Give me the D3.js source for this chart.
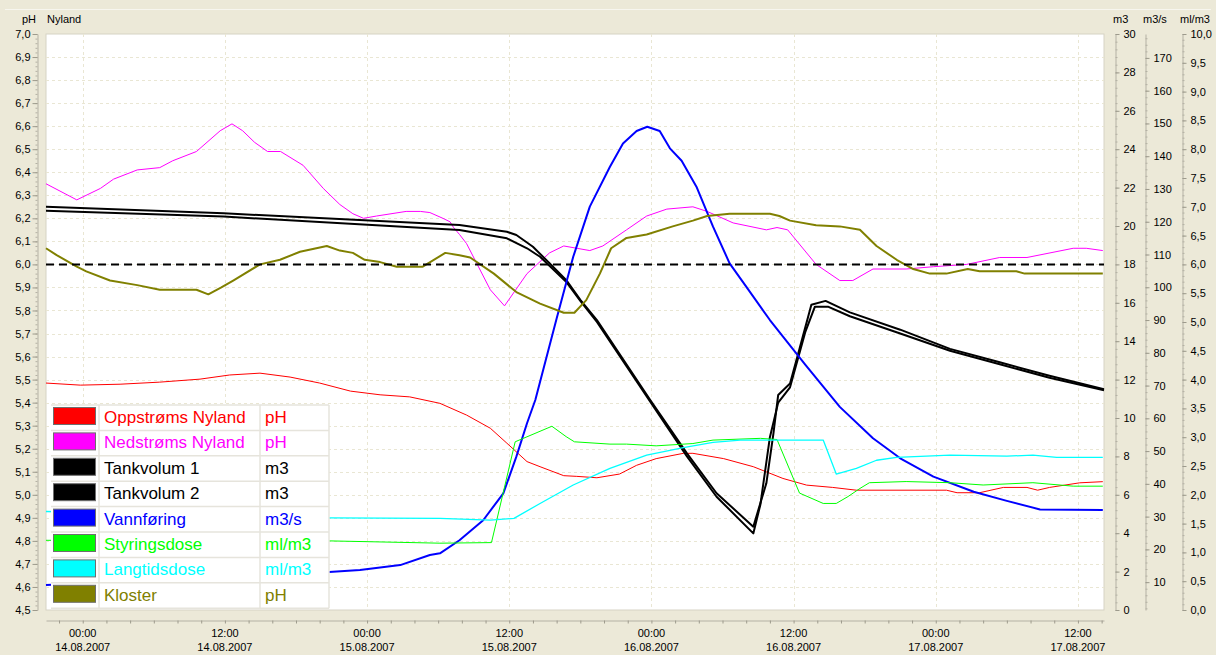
<!DOCTYPE html>
<html>
<head>
<meta charset="utf-8">
<script src="https://cdn.jsdelivr.net/npm/d3@7"></script>
<style>
body { margin: 0; background: #ECE9D8; }
svg { display: block; font-family: "Liberation Sans", Arial, sans-serif; }
</style>
</head>
<body>
<div id="chart"></div>
<script>
// time = hours after 14.08.2007 00:00
const timeRange = [-3.1, 86.2];

// pH
const oppstroms = [[-3.1,5.485],[-0.2,5.476],[3.15,5.48],[6.5,5.489],[9.9,5.502],[12.4,5.52],[14.96,5.528],[17.5,5.511],[20.0,5.485],[22.6,5.45],[25.1,5.434],[27.6,5.425],[30.15,5.397],[32.4,5.346],[34.4,5.289],[35.8,5.224],[37.5,5.144],[38.6,5.122],[40.6,5.083],[41.7,5.08],[43.4,5.074],[45.3,5.09],[46.75,5.128],[48.4,5.157],[50.7,5.18],[51.5,5.18],[54.1,5.157],[56.6,5.122],[59.1,5.071],[61.1,5.042],[63.3,5.032],[65.3,5.02],[72.9,5.02],[73.8,5.009],[75.7,5.009],[77.7,5.032],[79.7,5.032],[80.6,5.02],[81.6,5.032],[84.15,5.052],[86.1,5.057]];

// pH
const nedstroms = [[-3.1,6.35],[-0.5,6.28],[1.5,6.33],[2.6,6.37],[4.6,6.41],[6.5,6.42],[7.6,6.45],[9.6,6.49],[11.6,6.58],[12.6,6.61],[13.5,6.58],[14.5,6.53],[15.6,6.49],[16.7,6.49],[18.6,6.43],[20.3,6.33],[21.7,6.26],[22.8,6.22],[23.7,6.2],[24.8,6.21],[27.3,6.23],[28.5,6.23],[29.3,6.225],[30.4,6.2],[31.0,6.185],[31.3,6.16],[31.8,6.13],[32.4,6.09],[34.4,5.89],[35.6,5.82],[37.5,5.96],[39.4,6.05],[40.6,6.08],[41.7,6.07],[42.8,6.06],[43.9,6.08],[45.9,6.15],[47.6,6.21],[49.3,6.24],[51.5,6.25],[52.7,6.23],[54.9,6.18],[57.7,6.15],[58.6,6.16],[59.5,6.15],[61.9,6.0],[63.9,5.93],[65.0,5.93],[66.7,5.98],[69.5,5.98],[71.8,5.99],[74.6,6.0],[77.4,6.03],[79.7,6.03],[83.6,6.07],[84.7,6.07],[86.1,6.06]];

// m3
const tankvolum1 = [[-3.1,21.0],[11.9,20.66],[31.8,20.05],[35.8,19.7],[36.6,19.53],[38.0,18.92],[39.4,18.06],[40.8,17.19],[42.0,16.15],[43.4,15.1],[47.9,10.94],[51.0,8.16],[53.5,6.08],[56.6,4.34],[57.7,6.6],[58.3,9.2],[58.7,11.2],[59.7,11.8],[60.5,13.6],[61.5,15.9],[62.7,16.1],[64.75,15.5],[69.0,14.6],[73.2,13.6],[77.4,12.9],[81.6,12.2],[86.2,11.5]];

// m3
const tankvolum2 = [[-3.1,20.8],[11.9,20.49],[31.8,19.79],[35.8,19.36],[37.5,18.84],[38.6,18.4],[40.8,17.1],[42.0,16.1],[43.4,15.0],[47.9,10.85],[51.0,8.0],[53.5,5.9],[56.6,3.99],[57.2,5.5],[58.0,9.0],[58.7,10.8],[59.7,11.6],[61.0,14.5],[61.8,15.8],[62.9,15.8],[64.75,15.3],[69.0,14.4],[73.2,13.5],[77.4,12.8],[81.6,12.1],[86.2,11.45]];

// m3/s
const vannforing = [[-3.1,9.1],[8.0,10.8],[20.8,13.1],[23.4,13.7],[26.8,15.2],[29.3,18.3],[30.15,18.8],[31.8,22.8],[33.8,28.9],[35.5,37.1],[36.6,48.3],[37.5,58.5],[38.2,65.6],[40.0,90.5],[41.4,109.3],[42.8,124.6],[44.5,136.8],[45.6,143.9],[46.75,147.7],[47.65,149.0],[48.7,147.7],[49.56,142.4],[50.55,138.6],[51.8,130.7],[53.2,118.5],[54.6,107.3],[56.0,100.2],[58.0,90.0],[61.0,76.3],[63.9,63.5],[66.7,53.9],[69.0,47.8],[71.8,42.2],[75.2,37.6],[78.0,34.8],[80.8,32.2],[86.1,32.0]];

// ml/m3
const styringsdose = [[-3.1,1.21],[20.8,1.2],[30.15,1.16],[34.5,1.17],[36.5,2.92],[39.6,3.19],[40.8,3.01],[41.5,2.92],[44.5,2.88],[45.9,2.88],[48.4,2.85],[51.5,2.89],[53.2,2.95],[57.2,2.98],[58.6,2.96],[60.5,2.03],[62.5,1.85],[63.6,1.85],[64.6,1.97],[65.6,2.11],[66.4,2.21],[69.5,2.23],[73.2,2.21],[76.0,2.17],[80.2,2.21],[83.6,2.15],[86.1,2.15]];

// ml/m3
const langtidsdose = [[-3.1,1.71],[20.8,1.6],[30.15,1.59],[34.4,1.56],[36.4,1.59],[38.6,1.85],[41.4,2.17],[44.5,2.46],[47.6,2.69],[50.7,2.82],[53.2,2.91],[55.5,2.95],[62.5,2.95],[63.6,2.36],[65.3,2.46],[67.0,2.6],[68.7,2.65],[73.2,2.69],[78.0,2.67],[80.2,2.69],[82.2,2.65],[86.1,2.65]];

// pH
const kloster = [[-3.1,6.07],[-2.2,6.04],[-0.5,5.99],[0.3,5.97],[2.3,5.93],[4.6,5.91],[6.5,5.89],[9.6,5.89],[10.6,5.87],[11.7,5.9],[12.7,5.93],[14.96,6.0],[16.65,6.02],[18.34,6.055],[20.6,6.08],[21.7,6.06],[22.8,6.05],[23.8,6.02],[25.1,6.01],[26.5,5.99],[28.7,5.99],[30.6,6.05],[31.8,6.04],[32.7,6.03],[34.7,5.96],[36.6,5.88],[38.6,5.83],[40.6,5.79],[41.5,5.79],[42.5,5.845],[43.65,5.96],[44.6,6.07],[45.9,6.115],[47.6,6.13],[49.8,6.165],[51.5,6.19],[52.7,6.21],[54.6,6.22],[58.0,6.22],[58.8,6.21],[59.7,6.19],[61.9,6.17],[63.9,6.165],[65.6,6.15],[67.0,6.08],[68.7,6.02],[70.1,5.98],[71.5,5.96],[72.9,5.96],[74.7,5.98],[75.7,5.97],[78.8,5.97],[79.5,5.96],[86.1,5.96]];

const seriesNames = ["Oppstrøms Nyland", "Nedstrøms Nyland", "Tankvolum 1", "Tankvolum 2", "Vannføring", "Styringsdose", "Langtidsdose", "Kloster"];
const seriesUnits = ["pH", "pH", "m3", "m3", "m3/s", "ml/m3", "ml/m3", "pH"];
const seriesColors = ["#ff0000", "#ff00ff", "#000000", "#000000", "#0000ff", "#00ff00", "#00ffff", "#808000"];
const seriesData = [oppstroms, nedstroms, tankvolum1, tankvolum2, vannforing, styringsdose, langtidsdose, kloster];
const seriesWidth = [1, 1, 2, 2, 2, 1, 1.3, 2];

const phDomain = [4.5, 7.0];
const m3Domain = [0, 30];
const flowDomain = [1.5, 177.3];
const doseDomain = [0, 10];
const phLimit = 6.0;

const phTicks = d3.range(45, 71).map(d => d / 10);
const m3Ticks = d3.range(0, 31, 2);
const flowTicks = d3.range(10, 171, 10);
const doseTicks = d3.range(0, 21).map(d => d / 2);

const W = 1216, H = 655;
const plot = { left: 46, right: 1104, top: 34, bottom: 610 };

const base = new Date(2007, 7, 14, 0, 0);
const toDate = h => new Date(+base + h * 3600e3);

const svg = d3.select("#chart").append("svg")
  .attr("width", W).attr("height", H);

const x = d3.scaleTime().domain(timeRange.map(toDate)).range([plot.left, plot.right]);
const yPH = d3.scaleLinear().domain(phDomain).range([plot.bottom, plot.top]);
const yM3 = d3.scaleLinear().domain(m3Domain).range([plot.bottom, plot.top]);
const yFlow = d3.scaleLinear().domain(flowDomain).range([plot.bottom, plot.top]);
const yDose = d3.scaleLinear().domain(doseDomain).range([plot.bottom, plot.top]);
const seriesScale = [yPH, yPH, yM3, yM3, yFlow, yDose, yDose, yPH];

const loc = d3.formatLocale({ decimal: ",", thousands: " ", grouping: [3], currency: ["", ""] });
const f1 = loc.format(".1f");

// panel edge
svg.append("line").attr("x1", 5).attr("x2", 1211).attr("y1", 9.5).attr("y2", 9.5)
  .attr("stroke", "#f7f6ef");

// plot area
svg.append("rect")
  .attr("x", plot.left).attr("y", plot.top)
  .attr("width", plot.right - plot.left).attr("height", plot.bottom - plot.top)
  .attr("fill", "#fff").attr("stroke", "#d6d3c4");

// grid
const grid = svg.append("g").attr("stroke", "#e9e6d3").attr("stroke-dasharray", "3,3");
grid.selectAll("line.h").data(phTicks.slice(1, -1)).join("line")
  .attr("x1", plot.left).attr("x2", plot.right)
  .attr("y1", d => Math.round(yPH(d)) + 0.5).attr("y2", d => Math.round(yPH(d)) + 0.5);
grid.selectAll("line.v").data(x.ticks(d3.timeHour.every(12))).join("line")
  .attr("y1", plot.top).attr("y2", plot.bottom)
  .attr("x1", d => Math.round(x(d)) + 0.5).attr("x2", d => Math.round(x(d)) + 0.5);

// series
const line = d3.line().curve(d3.curveLinear);
seriesData.forEach((data, i) => {
  const ys = seriesScale[i];
  svg.append("path")
    .attr("fill", "none")
    .attr("stroke", seriesColors[i])
    .attr("stroke-width", seriesWidth[i])
    .attr("stroke-linejoin", "round")
    .attr("d", line.x(d => x(toDate(d[0]))).y(d => ys(d[1]))(data));
});

// limit line
svg.append("line")
  .attr("x1", plot.left).attr("x2", plot.right)
  .attr("y1", yPH(phLimit)).attr("y2", yPH(phLimit))
  .attr("stroke", "#000").attr("stroke-width", 2).attr("stroke-dasharray", "8,5");

// legend
const lg = { x: 51, y: 405, w: 278, rowH: 25.4 };
const legend = svg.append("g");
legend.append("rect").attr("x", lg.x).attr("y", lg.y)
  .attr("width", lg.w).attr("height", lg.rowH * seriesNames.length).attr("fill", "#fff");
const rows = legend.selectAll("g.row").data(seriesNames).join("g")
  .attr("transform", (d, i) => `translate(${lg.x},${lg.y + i * lg.rowH})`);
rows.append("line").attr("x1", 0).attr("x2", lg.w).attr("y1", 0).attr("y2", 0)
  .attr("stroke", "#e6e4dc").attr("stroke-width", 1.5);
rows.append("rect").attr("x", 2.5).attr("y", 2.5).attr("width", 42).attr("height", 17)
  .attr("fill", (d, i) => seriesColors[i]).attr("stroke", "#6e6e6e");
rows.append("text").attr("x", 53).attr("y", 18)
  .attr("font-size", 17).attr("fill", (d, i) => seriesColors[i]).text(d => d);
rows.append("text").attr("x", 214).attr("y", 18)
  .attr("font-size", 17).attr("fill", (d, i) => seriesColors[i]).text((d, i) => seriesUnits[i]);
[48, 209, lg.w].forEach(cx => legend.append("line")
  .attr("x1", lg.x + cx).attr("x2", lg.x + cx).attr("y1", lg.y).attr("y2", lg.y + lg.rowH * 8)
  .attr("stroke", "#e6e4dc").attr("stroke-width", 1.5));
legend.append("line").attr("x1", lg.x).attr("x2", lg.x + lg.w)
  .attr("y1", lg.y + lg.rowH * 8).attr("y2", lg.y + lg.rowH * 8)
  .attr("stroke", "#e6e4dc").attr("stroke-width", 1.5);

// axes
function styleAxis(g) {
  g.select(".domain").attr("stroke", "#b4b1a4");
  g.selectAll(".tick line").attr("stroke", "#9d9a8c");
  g.selectAll("text").attr("font-size", 11).attr("fill", "#000")
    .attr("font-family", "'Liberation Sans', Arial, sans-serif");
}
function minor(axisFn, scale, values, xPos) {
  svg.append("g").attr("transform", `translate(${xPos},0)`)
    .call(axisFn(scale).tickValues(values).tickSize(2).tickFormat("").tickSizeOuter(0))
    .call(g => { g.select(".domain").remove(); g.selectAll("line").attr("stroke", "#b4b1a4"); });
}

const axL = 37.5;
minor(d3.axisLeft, yPH, d3.range(450, 701, 2).map(d => d / 100), axL);
svg.append("g").attr("transform", `translate(${axL},0)`)
  .call(d3.axisLeft(yPH).tickValues(phTicks).tickFormat(f1).tickSize(5).tickPadding(2).tickSizeOuter(0))
  .call(styleAxis);

const axM3 = 1115.5, axFlow = 1145.5, axDose = 1182.5;
minor(d3.axisRight, yM3, d3.range(0, 30.01, 0.4), axM3);
svg.append("g").attr("transform", `translate(${axM3},0)`)
  .call(d3.axisRight(yM3).tickValues(m3Ticks).tickSize(4).tickPadding(4).tickSizeOuter(0))
  .call(styleAxis);
minor(d3.axisRight, yFlow, d3.range(2, 177, 2), axFlow);
svg.append("g").attr("transform", `translate(${axFlow},0)`)
  .call(d3.axisRight(yFlow).tickValues(flowTicks).tickSize(4).tickPadding(4).tickSizeOuter(0))
  .call(styleAxis);
minor(d3.axisRight, yDose, d3.range(0, 100.1, 1).map(d => d / 10), axDose);
svg.append("g").attr("transform", `translate(${axDose},0)`)
  .call(d3.axisRight(yDose).tickValues(doseTicks).tickFormat(f1).tickSize(4).tickPadding(4).tickSizeOuter(0))
  .call(styleAxis);

// bottom axis
const axB = 620.5;
svg.append("g").attr("transform", `translate(0,${axB})`)
  .call(d3.axisBottom(x).ticks(d3.timeHour.every(2)).tickSize(3).tickFormat("").tickSizeOuter(0))
  .call(styleAxis);
const fmtTime = d3.timeFormat("%H:%M"), fmtDate = d3.timeFormat("%d.%m.%Y");
const xl = svg.append("g").attr("font-size", 11).attr("text-anchor", "middle");
x.ticks(d3.timeHour.every(12)).forEach(d => {
  xl.append("text").attr("x", x(d)).attr("y", 637).text(fmtTime(d));
  xl.append("text").attr("x", x(d)).attr("y", 651).text(fmtDate(d));
});

// headers
const hd = svg.append("g").attr("font-size", 11).attr("fill", "#000");
hd.append("text").attr("x", 22).attr("y", 23).text("pH");
hd.append("text").attr("x", 47).attr("y", 23).text("Nyland");
hd.append("text").attr("x", 1113).attr("y", 23).text("m3");
hd.append("text").attr("x", 1143).attr("y", 23).text("m3/s");
hd.append("text").attr("x", 1180).attr("y", 23).text("ml/m3");
</script>
</body>
</html>
